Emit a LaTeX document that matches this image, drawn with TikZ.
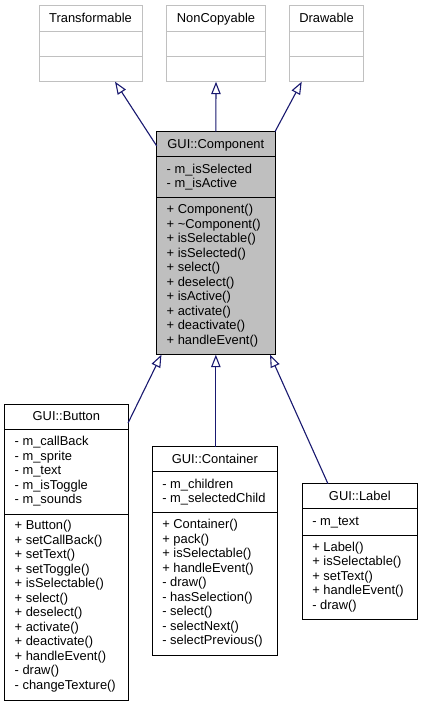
\documentclass[tikz,border=0pt]{standalone}
\usepackage{fontspec}
\setmainfont{Liberation Sans}
\usetikzlibrary{arrows.meta,calc}
\definecolor{edge}{HTML}{191970}
\definecolor{boxgrey}{HTML}{BFBFBF}
\definecolor{lightborder}{HTML}{C0C0C0}
\tikzset{
  txt/.style={inner sep=0pt, outer sep=0pt, font=\fontsize{12.9}{14.5}\selectfont},
  clsbox/.style={draw=black, line width=1pt, inner sep=0pt, outer sep=0pt, anchor=north west},
  greybox/.style={draw=lightborder, line width=1pt, inner sep=0pt, outer sep=0pt, anchor=north west, fill=white},
  thisbox/.style={fill=white},
  inherit/.style={draw=edge, line width=1.1pt, -{Triangle[open,length=12.5pt,width=9.5pt,line width=1.1pt]}},
}
\newcommand\umlclass[9]{%
  \pgfmathsetmacro\hA{14.5*#5+12}%
  \pgfmathsetmacro\hB{14.5*#6+12}%
  \pgfmathsetmacro\hT{25+\hA+\hB}%
  \node[clsbox, thisbox, minimum width=#4pt, minimum height=\hT pt] (#1) at (#2,#3) {};%
  \draw[line width=1pt] ($(#1.north west)+(0,25)$) -- ($(#1.north east)+(0,25)$);%
  \draw[line width=1pt] ($(#1.north west)+(0,{25+\hA})$) -- ($(#1.north east)+(0,{25+\hA})$);%
  \node[txt, anchor=base] (#1-t) at ($(#1.north)+(0,16.3)$) {#7};%
  \foreach \entry [count=\i from 0] in {#8} {\node[txt, anchor=base west] (#1-a\i) at ($(#1.north west)+(10,{41.3+14.5*\i})$) {\entry};}%
  \foreach \entry [count=\i from 0] in {#9} {\node[txt, anchor=base west] (#1-m\i) at ($(#1.north west)+(10,{25+\hA+15.8+14.5*\i})$) {\entry};}%
}
\newcommand\emptyclass[5]{%
  \node[greybox, minimum width=#4pt, minimum height=76.4pt] (#1) at (#2,#3) {};%
  \draw[draw=lightborder, line width=1pt] ($(#1.north west)+(0,26)$) -- ($(#1.north east)+(0,26)$);%
  \draw[draw=lightborder, line width=1pt] ($(#1.north west)+(0,51.4)$) -- ($(#1.north east)+(0,51.4)$);%
  \node[txt, anchor=base] (#1-t) at ($(#1.north)+(0,16.8)$) {#5};%
}
\begin{document}
\begin{tikzpicture}[x=1pt, y=-1pt]
\useasboundingbox (0,0) rectangle (422,705);
\fill[white] (0,0) rectangle (422,705);

\emptyclass{trans}{39}{5.3}{103}{Transformable}
\emptyclass{noncopy}{166.7}{5.3}{98.6}{NonCopyable}
\emptyclass{drawable}{289.3}{5.3}{74.4}{Drawable}

\begin{scope}[thisbox/.style={fill=boxgrey}]
\umlclass{comp}{156.7}{131.7}{118.3}{2}{10}{GUI::Component}%
  {{- m\_isSelected},{- m\_isActive}}%
  {{+ Component()},{+ \textasciitilde Component()},{+ isSelectable()},{+ isSelected()},{+ select()},{+ deselect()},{+ isActive()},{+ activate()},{+ deactivate()},{+ handleEvent()}}
\end{scope}

\umlclass{button}{4.7}{404.5}{123.3}{5}{12}{GUI::Button}%
  {{- m\_callBack},{- m\_sprite},{- m\_text},{- m\_isToggle},{- m\_sounds}}%
  {{+ Button()},{+ setCallBack()},{+ setText()},{+ setToggle()},{+ isSelectable()},{+ select()},{+ deselect()},{+ activate()},{+ deactivate()},{+ handleEvent()},{- draw()},{- changeTexture()}}

\umlclass{container}{152.3}{446.7}{125}{2}{9}{GUI::Container}%
  {{- m\_children},{- m\_selectedChild}}%
  {{+ Container()},{+ pack()},{+ isSelectable()},{+ handleEvent()},{- draw()},{- hasSelection()},{- select()},{- selectNext()},{- selectPrevious()}}

\umlclass{label}{302.3}{483.7}{115}{1}{5}{GUI::Label}%
  {{- m\_text}}%
  {{+ Label()},{+ isSelectable()},{+ setText()},{+ handleEvent()},{- draw()}}

\draw[inherit] ($(comp.north west)!0.064!(comp.south west)$) -- ($(trans.south west)!0.738!(trans.south east)$);
\draw[inherit] (comp.north) -- (noncopy.south);
\draw[inherit] (comp.north east) -- ($(drawable.south west)!0.167!(drawable.south east)$);
\draw[inherit] ($(button.north east)!0.063!(button.south east)$) -- ($(comp.south west)!0.04!(comp.south east)$);
\draw[inherit] (comp.south |- container.north) -- (comp.south);
\draw[inherit] ($(label.north west)!0.223!(label.north east)$) -- ($(comp.south west)!0.958!(comp.south east)$);
\end{tikzpicture}
\end{document}
